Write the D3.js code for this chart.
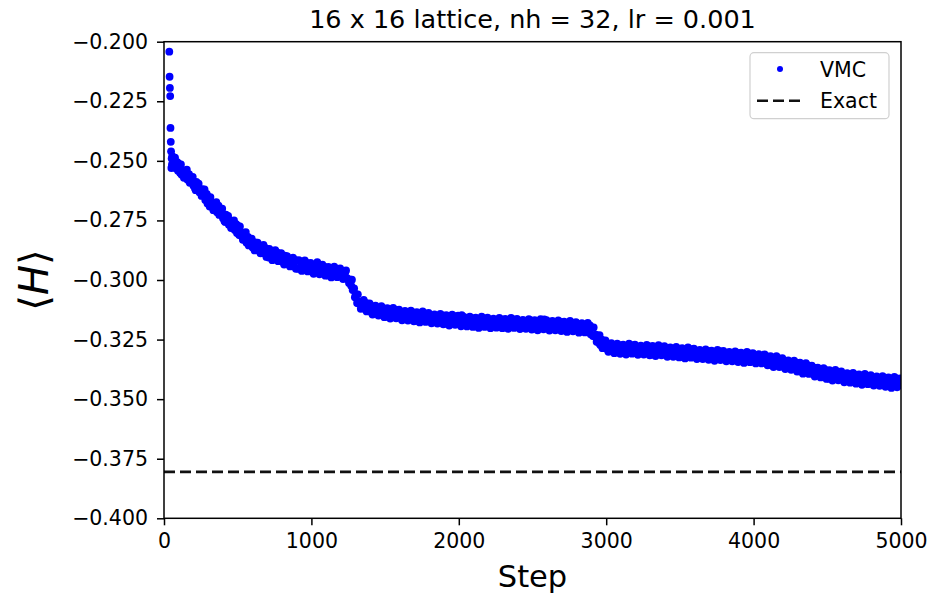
<!DOCTYPE html>
<html>
<head>
<meta charset="utf-8">
<script src="https://cdn.jsdelivr.net/npm/d3@7"></script>
<style>
  body { margin: 0; background: #fff; }
  text { font-family: "DejaVu Sans", sans-serif; fill: #000; }
</style>
</head>
<body>
<script>
// first few steps, before the curve settles
const earlySteps = [36, 38, 40, 42, 44, 46, 48, 50, 52, 54, 56];
const earlyEnergy = [-0.2042, -0.2147, -0.2194, -0.2228, -0.2362, -0.2420, -0.2460, -0.2530, -0.2490, -0.2515, -0.2480];

// VMC energy, steps 60, 80, ..., 5000
const energyA = [
  -0.2488, -0.2531, -0.2512, -0.2558, -0.2541, -0.2579, -0.2566, -0.2605, -0.2588, -0.2632,
  -0.2619, -0.2664, -0.2651, -0.2690, -0.2676, -0.2716, -0.2700, -0.2741, -0.2726, -0.2768,
  -0.2752, -0.2790, -0.2772, -0.2813, -0.2801, -0.2844, -0.2828, -0.2863, -0.2842, -0.2876,
  -0.2858, -0.2889, -0.2872, -0.2904, -0.2883, -0.2913, -0.2891, -0.2921, -0.2898, -0.2933,
  -0.2912, -0.2941, -0.2920, -0.2950, -0.2928, -0.2955, -0.2934, -0.2961, -0.2938, -0.2925,
  -0.2943, -0.2968, -0.2950, -0.2975, -0.2954, -0.2979, -0.2958, -0.2983, -0.2963, -0.2991,
  -0.2998, -0.3042, -0.3058, -0.3099, -0.3095, -0.3121, -0.3104, -0.3131, -0.3112, -0.3137,
  -0.3118, -0.3143, -0.3124, -0.3148, -0.3127, -0.3152, -0.3131, -0.3156, -0.3135, -0.3159,
  -0.3138, -0.3161, -0.3141, -0.3165, -0.3144, -0.3167, -0.3149, -0.3170, -0.3151, -0.3172,
  -0.3152, -0.3175, -0.3155, -0.3177, -0.3158, -0.3181, -0.3160, -0.3183, -0.3147, -0.3185,
  -0.3163, -0.3186, -0.3166, -0.3188, -0.3168, -0.3190, -0.3169, -0.3191, -0.3170, -0.3192,
  -0.3171, -0.3192, -0.3173, -0.3194, -0.3174, -0.3195, -0.3175, -0.3196, -0.3176, -0.3197,
  -0.3176, -0.3198, -0.3178, -0.3199, -0.3180, -0.3201, -0.3165, -0.3202, -0.3182, -0.3203,
  -0.3183, -0.3204, -0.3185, -0.3206, -0.3187, -0.3207, -0.3189, -0.3209, -0.3190, -0.3210,
  -0.3192, -0.3213, -0.3202, -0.3236, -0.3238, -0.3273, -0.3262, -0.3286, -0.3272, -0.3295,
  -0.3278, -0.3298, -0.3280, -0.3301, -0.3282, -0.3302, -0.3283, -0.3303, -0.3284, -0.3304,
  -0.3285, -0.3305, -0.3287, -0.3307, -0.3288, -0.3308, -0.3289, -0.3309, -0.3290, -0.3310,
  -0.3291, -0.3311, -0.3293, -0.3313, -0.3296, -0.3316, -0.3298, -0.3318, -0.3301, -0.3320,
  -0.3302, -0.3321, -0.3304, -0.3324, -0.3307, -0.3326, -0.3309, -0.3328, -0.3311, -0.3330,
  -0.3312, -0.3331, -0.3314, -0.3333, -0.3316, -0.3335, -0.3318, -0.3337, -0.3320, -0.3339,
  -0.3323, -0.3342, -0.3326, -0.3346, -0.3330, -0.3350, -0.3335, -0.3355, -0.3340, -0.3360,
  -0.3344, -0.3363, -0.3350, -0.3370, -0.3356, -0.3377, -0.3362, -0.3384, -0.3369, -0.3392,
  -0.3377, -0.3396, -0.3380, -0.3400, -0.3385, -0.3404, -0.3389, -0.3408, -0.3398, -0.3417,
  -0.3400, -0.3419, -0.3403, -0.3422, -0.3406, -0.3425, -0.3409, -0.3428, -0.3412, -0.3431,
  -0.3414, -0.3433, -0.3417, -0.3436, -0.3420, -0.3439, -0.3423, -0.3442
];
const stepsA = d3.range(60, 5001, 20);

// VMC energy, steps 70, 90, ..., 4990
const energyB = [
  -0.2512, -0.2505, -0.2551, -0.2541, -0.2570, -0.2556, -0.2589, -0.2615, -0.2602, -0.2633,
  -0.2646, -0.2639, -0.2692, -0.2676, -0.2708, -0.2688, -0.2723, -0.2752, -0.2735, -0.2769,
  -0.2775, -0.2766, -0.2811, -0.2801, -0.2832, -0.2819, -0.2848, -0.2868, -0.2849, -0.2874,
  -0.2878, -0.2866, -0.2906, -0.2887, -0.2908, -0.2885, -0.2909, -0.2927, -0.2906, -0.2929,
  -0.2931, -0.2916, -0.2953, -0.2932, -0.2951, -0.2928, -0.2950, -0.2966, -0.2942, -0.2962,
  -0.2961, -0.2945, -0.2981, -0.2959, -0.2977, -0.2952, -0.2973, -0.2988, -0.2966, -0.2999,
  -0.3024, -0.3035, -0.3096, -0.3091, -0.3117, -0.3096, -0.3120, -0.3137, -0.3114, -0.3135,
  -0.3135, -0.3119, -0.3154, -0.3132, -0.3150, -0.3125, -0.3146, -0.3161, -0.3136, -0.3156,
  -0.3154, -0.3136, -0.3171, -0.3148, -0.3165, -0.3140, -0.3160, -0.3174, -0.3150, -0.3169,
  -0.3167, -0.3149, -0.3183, -0.3161, -0.3178, -0.3152, -0.3172, -0.3186, -0.3161, -0.3181,
  -0.3179, -0.3160, -0.3194, -0.3170, -0.3187, -0.3161, -0.3180, -0.3194, -0.3167, -0.3186,
  -0.3184, -0.3165, -0.3199, -0.3175, -0.3192, -0.3165, -0.3184, -0.3198, -0.3171, -0.3191,
  -0.3189, -0.3170, -0.3204, -0.3181, -0.3198, -0.3171, -0.3190, -0.3204, -0.3178, -0.3197,
  -0.3195, -0.3176, -0.3211, -0.3188, -0.3205, -0.3179, -0.3198, -0.3212, -0.3186, -0.3206,
  -0.3205, -0.3191, -0.3235, -0.3229, -0.3264, -0.3250, -0.3275, -0.3293, -0.3271, -0.3293,
  -0.3292, -0.3273, -0.3307, -0.3283, -0.3300, -0.3273, -0.3292, -0.3306, -0.3280, -0.3299,
  -0.3297, -0.3279, -0.3313, -0.3289, -0.3306, -0.3280, -0.3300, -0.3314, -0.3289, -0.3308,
  -0.3306, -0.3288, -0.3322, -0.3299, -0.3316, -0.3290, -0.3311, -0.3325, -0.3299, -0.3318,
  -0.3316, -0.3297, -0.3331, -0.3308, -0.3325, -0.3299, -0.3319, -0.3333, -0.3307, -0.3327,
  -0.3325, -0.3306, -0.3340, -0.3317, -0.3334, -0.3308, -0.3328, -0.3342, -0.3316, -0.3336,
  -0.3337, -0.3321, -0.3356, -0.3335, -0.3353, -0.3329, -0.3350, -0.3366, -0.3343, -0.3363,
  -0.3363, -0.3347, -0.3383, -0.3363, -0.3382, -0.3358, -0.3381, -0.3397, -0.3374, -0.3395,
  -0.3395, -0.3378, -0.3414, -0.3392, -0.3410, -0.3385, -0.3406, -0.3421, -0.3397, -0.3417,
  -0.3415, -0.3397, -0.3432, -0.3409, -0.3428, -0.3401, -0.3422, -0.3436, -0.3410, -0.3430,
  -0.3428, -0.3410, -0.3444, -0.3421, -0.3439, -0.3413, -0.3434
];
const stepsB = d3.range(70, 5000, 20);

// VMC energy, steps 75, 95, ..., 4995 (band edges)
const energyC = [
  -0.2487, -0.2542, -0.2515, -0.2571, -0.2537, -0.2592, -0.2567, -0.2623, -0.2596, -0.2647,
  -0.2620, -0.2679, -0.2652, -0.2707, -0.2673, -0.2727, -0.2701, -0.2757, -0.2731, -0.2782,
  -0.2750, -0.2803, -0.2775, -0.2831, -0.2799, -0.2855, -0.2826, -0.2876, -0.2843, -0.2888,
  -0.2853, -0.2903, -0.2870, -0.2917, -0.2875, -0.2921, -0.2887, -0.2935, -0.2900, -0.2943,
  -0.2906, -0.2953, -0.2917, -0.2962, -0.2918, -0.2964, -0.2928, -0.2974, -0.2936, -0.2976,
  -0.2936, -0.2982, -0.2945, -0.2989, -0.2944, -0.2988, -0.2951, -0.2996, -0.2960, -0.3013,
  -0.2999, -0.3072, -0.3060, -0.3121, -0.3084, -0.3132, -0.3098, -0.3145, -0.3108, -0.3149,
  -0.3110, -0.3156, -0.3118, -0.3162, -0.3117, -0.3161, -0.3124, -0.3169, -0.3130, -0.3170,
  -0.3129, -0.3173, -0.3135, -0.3178, -0.3132, -0.3176, -0.3138, -0.3182, -0.3144, -0.3183,
  -0.3142, -0.3186, -0.3147, -0.3191, -0.3145, -0.3188, -0.3150, -0.3194, -0.3155, -0.3195,
  -0.3154, -0.3197, -0.3158, -0.3201, -0.3154, -0.3197, -0.3158, -0.3202, -0.3162, -0.3200,
  -0.3159, -0.3202, -0.3163, -0.3205, -0.3159, -0.3201, -0.3163, -0.3206, -0.3167, -0.3205,
  -0.3164, -0.3208, -0.3168, -0.3211, -0.3164, -0.3207, -0.3168, -0.3212, -0.3172, -0.3211,
  -0.3170, -0.3214, -0.3175, -0.3218, -0.3172, -0.3215, -0.3177, -0.3221, -0.3181, -0.3220,
  -0.3180, -0.3228, -0.3199, -0.3259, -0.3231, -0.3286, -0.3253, -0.3301, -0.3265, -0.3307,
  -0.3267, -0.3310, -0.3271, -0.3313, -0.3267, -0.3309, -0.3271, -0.3314, -0.3275, -0.3313,
  -0.3272, -0.3316, -0.3277, -0.3319, -0.3273, -0.3316, -0.3278, -0.3322, -0.3283, -0.3322,
  -0.3281, -0.3325, -0.3286, -0.3329, -0.3283, -0.3326, -0.3288, -0.3332, -0.3293, -0.3332,
  -0.3291, -0.3335, -0.3296, -0.3339, -0.3293, -0.3336, -0.3298, -0.3341, -0.3302, -0.3341,
  -0.3300, -0.3344, -0.3305, -0.3348, -0.3302, -0.3345, -0.3307, -0.3350, -0.3311, -0.3350,
  -0.3312, -0.3358, -0.3320, -0.3365, -0.3320, -0.3365, -0.3328, -0.3374, -0.3337, -0.3377,
  -0.3338, -0.3384, -0.3347, -0.3393, -0.3349, -0.3394, -0.3359, -0.3405, -0.3368, -0.3409,
  -0.3370, -0.3415, -0.3378, -0.3422, -0.3377, -0.3421, -0.3384, -0.3429, -0.3391, -0.3431,
  -0.3390, -0.3435, -0.3396, -0.3440, -0.3394, -0.3437, -0.3399, -0.3443, -0.3405, -0.3444,
  -0.3403, -0.3448, -0.3409, -0.3453, -0.3407, -0.3450, -0.3413
];
const stepsC = d3.range(75, 5000, 20);

const exactEnergy = -0.3805;
const xTicks = [0, 1000, 2000, 3000, 4000, 5000];
const yTicks = [-0.2, -0.225, -0.25, -0.275, -0.3, -0.325, -0.35, -0.375, -0.4];

const width = 933, height = 598;
const margin = { top: 41.7, right: 32, bottom: 79.7, left: 164 };

const points = earlySteps.map((s, i) => ({ step: s, e: earlyEnergy[i] }))
  .concat(stepsA.map((s, i) => ({ step: s, e: energyA[i] })))
  .concat(stepsB.map((s, i) => ({ step: s, e: energyB[i] })))
  .concat(stepsC.map((s, i) => ({ step: s, e: energyC[i] })));

const svg = d3.select("body").append("svg")
  .attr("width", width)
  .attr("height", height);

svg.append("rect").attr("width", width).attr("height", height).attr("fill", "#fff");

const x = d3.scaleLinear().domain([0, 5000]).range([margin.left, width - margin.right]);
const y = d3.scaleLinear().domain([-0.4, -0.2]).range([height - margin.bottom, margin.top]);

svg.append("clipPath").attr("id", "clip")
  .append("rect")
  .attr("x", margin.left).attr("y", margin.top)
  .attr("width", width - margin.left - margin.right)
  .attr("height", height - margin.top - margin.bottom);

// VMC points
svg.append("g").attr("clip-path", "url(#clip)")
  .selectAll("circle")
  .data(points)
  .join("circle")
  .attr("cx", d => x(d.step))
  .attr("cy", d => y(d.e))
  .attr("r", 3.9)
  .attr("fill", "#0000ff");

// exact energy
svg.append("line")
  .attr("x1", x(0)).attr("x2", x(5000))
  .attr("y1", y(exactEnergy)).attr("y2", y(exactEnergy))
  .attr("stroke", "#111")
  .attr("stroke-width", 2.6)
  .attr("stroke-dasharray", "11,5");

// axes
const xAxis = svg.append("g")
  .attr("transform", `translate(0,${height - margin.bottom})`)
  .call(d3.axisBottom(x).tickValues(xTicks).tickFormat(d3.format("d")).tickSize(7).tickPadding(8));

const yAxis = svg.append("g")
  .attr("transform", `translate(${margin.left},0)`)
  .call(d3.axisLeft(y).tickValues(yTicks).tickFormat(d3.format(".3f")).tickSize(7).tickPadding(9));

[xAxis, yAxis].forEach(g => {
  g.select(".domain").remove();
  g.selectAll("line").attr("stroke", "#000").attr("stroke-width", 1.5);
  g.selectAll("text").style("font-size", "20.5px").attr("fill", "#000");
});

// frame
svg.append("rect")
  .attr("x", margin.left).attr("y", margin.top)
  .attr("width", width - margin.left - margin.right)
  .attr("height", height - margin.top - margin.bottom)
  .attr("fill", "none")
  .attr("stroke", "#000")
  .attr("stroke-width", 1.5);

// title and labels
svg.append("text")
  .attr("x", (margin.left + width - margin.right) / 2)
  .attr("y", 28)
  .attr("text-anchor", "middle")
  .style("font-size", "25.5px")
  .text("16 x 16 lattice, nh = 32, lr = 0.001");

svg.append("text")
  .attr("x", (margin.left + width - margin.right) / 2)
  .attr("y", 587)
  .attr("text-anchor", "middle")
  .style("font-size", "30.5px")
  .text("Step");

const yl = svg.append("text")
  .attr("transform", `translate(48,${(margin.top + height - margin.bottom) / 2}) rotate(-90)`)
  .attr("text-anchor", "middle")
  .style("font-size", "40px");
yl.append("tspan").text("\u27E8");
yl.append("tspan").style("font-style", "italic").text("H");
yl.append("tspan").text("\u27E9");

// legend
const legend = svg.append("g");
legend.append("rect")
  .attr("x", 750).attr("y", 52.7)
  .attr("width", 139).attr("height", 66)
  .attr("rx", 4)
  .attr("fill", "#fff").attr("fill-opacity", 0.8)
  .attr("stroke", "#d0d0d0").attr("stroke-width", 1.2);
legend.append("circle")
  .attr("cx", 780).attr("cy", 69)
  .attr("r", 3)
  .attr("fill", "#0000ff");
legend.append("text")
  .attr("x", 820).attr("y", 77)
  .style("font-size", "20.5px")
  .text("VMC");
legend.append("line")
  .attr("x1", 757).attr("x2", 802)
  .attr("y1", 100.7).attr("y2", 100.7)
  .attr("stroke", "#111")
  .attr("stroke-width", 2.6)
  .attr("stroke-dasharray", "11,5");
legend.append("text")
  .attr("x", 820).attr("y", 108)
  .style("font-size", "20.5px")
  .text("Exact");
</script>
</body>
</html>
